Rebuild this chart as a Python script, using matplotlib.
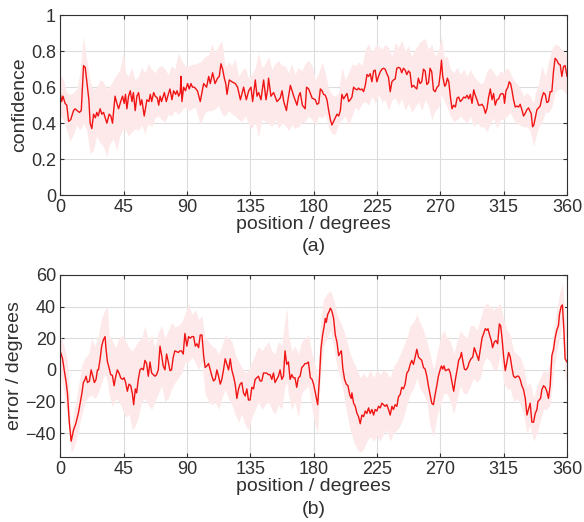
import numpy as np
import matplotlib
matplotlib.use("Agg")
import matplotlib.pyplot as plt

# ---- (a) confidence vs position ----
conf_pos = [0, 1, 2, 3.5, 4.7, 6, 7.5, 9.5, 10.6, 12,
            13.7, 15, 16.6, 17.8, 19.4, 20.4, 21.3, 22.5, 23.7, 25,
            26, 27, 28.4, 29.6, 30.8, 32, 33.2, 34.8, 36, 37.2,
            38, 39, 40.3, 41.5, 43, 44.3, 45.5, 46.4, 47.4, 48.6,
            49.8, 51, 52, 53.3, 54.5, 55.7, 57, 58, 59.7, 61.6,
            63, 64, 65, 66.4, 67.5, 69, 70, 71, 72, 74,
            75.4, 76.4, 78, 79.4, 80.6, 82, 83, 84.2, 85.3, 85.8,
            86.5, 87.7, 89, 90.5, 91.7, 92.9, 94, 95.3, 97.5, 99.5,
            101.9, 104, 105.5, 106.6, 108.3, 110, 111.8, 113, 114.2, 115.4,
            116.6, 117.6, 118.5, 120.1, 122, 124.4, 126, 128, 130.3, 132.2,
            133.9, 135.5, 136.7, 138.6, 139.8, 141, 142.6, 144.5, 146.2, 147.4,
            148, 149.7, 151.6, 154, 156.3, 157.6, 158.8, 160.7, 161.6, 163.5,
            165.9, 168.2, 169.4, 170.5, 172, 174, 175, 176.5, 178.9, 181.2,
            182.4, 183.6, 184.8, 186, 187.1, 188.3, 189.5, 190.7, 191.9, 193,
            194.2, 195.4, 196.6, 197.8, 199, 200.1, 201.3, 202.5, 203.7, 204.9,
            206, 207.2, 208.4, 209.6, 210.8, 211.9, 213.1, 214.3, 215.5, 216.7,
            217.9, 219, 220.2, 221.4, 222.6, 223.7, 224.9, 226.1, 227.3, 228.5,
            229.7, 230.8, 232, 233.2, 234.4, 235.6, 236.7, 237.9, 239.1, 240.3,
            241.5, 242.6, 243.8, 245, 246.2, 247.4, 248.5, 249.7, 250.9, 252,
            253.3, 254.4, 255.6, 256.8, 258, 259.2, 260.4, 261.6, 262.7, 263.9,
            265.1, 266.3, 267.7, 268.9, 270, 270.8, 271.7, 273.1, 274, 275,
            276, 277.1, 278.3, 279.5, 280.7, 281.9, 283, 284.2, 285.4, 286.6,
            287.8, 289, 290.1, 291.3, 292.5, 293.7, 294.8, 296, 297.2, 298.4,
            299.6, 300.8, 302, 303.1, 304.3, 305.5, 306.7, 307.8, 309, 310.2,
            311.4, 312.6, 313.8, 314.9, 315.6, 316.6, 318, 318.9, 319.9, 320.8,
            322, 323.2, 324.4, 325.6, 326.7, 327.9, 329.1, 330.3, 331.5, 332.6,
            333.8, 334.5, 335.5, 336.4, 337.4, 338.6, 339.7, 340.9, 342.1, 343.3,
            344.5, 345.6, 346.8, 348, 349.2, 350.4, 351.5, 352.7, 353.9, 355.1,
            356.3, 357.5, 358.6, 360]
conf_mean = [0.57, 0.52, 0.55, 0.51, 0.50, 0.41, 0.42, 0.47, 0.48, 0.47,
             0.46, 0.47, 0.72, 0.71, 0.60, 0.53, 0.40, 0.37, 0.45, 0.43,
             0.46, 0.44, 0.48, 0.45, 0.46, 0.43, 0.40, 0.45, 0.44, 0.40,
             0.47, 0.55, 0.51, 0.48, 0.52, 0.55, 0.51, 0.56, 0.48, 0.55,
             0.58, 0.52, 0.57, 0.47, 0.55, 0.57, 0.50, 0.53, 0.44, 0.53,
             0.52, 0.56, 0.52, 0.57, 0.55, 0.54, 0.50, 0.55, 0.52, 0.57,
             0.52, 0.55, 0.59, 0.53, 0.58, 0.56, 0.58, 0.55, 0.57, 0.66,
             0.52, 0.60, 0.58, 0.62, 0.59, 0.62, 0.60, 0.60, 0.58, 0.52,
             0.62, 0.60, 0.66, 0.62, 0.68, 0.62, 0.65, 0.66, 0.73, 0.70,
             0.65, 0.62, 0.56, 0.64, 0.63, 0.62, 0.60, 0.53, 0.60, 0.53,
             0.58, 0.60, 0.52, 0.64, 0.55, 0.57, 0.53, 0.64, 0.53, 0.59,
             0.65, 0.55, 0.57, 0.52, 0.54, 0.58, 0.52, 0.47, 0.52, 0.61,
             0.55, 0.50, 0.55, 0.57, 0.50, 0.48, 0.60, 0.59, 0.54, 0.53,
             0.505, 0.51, 0.59, 0.58, 0.56, 0.555, 0.53, 0.47, 0.42, 0.39,
             0.41, 0.43, 0.45, 0.44, 0.47, 0.56, 0.535, 0.55, 0.565, 0.52,
             0.53, 0.545, 0.60, 0.59, 0.585, 0.595, 0.585, 0.59, 0.575, 0.61,
             0.67, 0.66, 0.675, 0.63, 0.69, 0.695, 0.63, 0.66, 0.685, 0.70,
             0.705, 0.70, 0.675, 0.655, 0.575, 0.63, 0.64, 0.645, 0.705, 0.71,
             0.705, 0.68, 0.705, 0.695, 0.67, 0.69, 0.68, 0.60, 0.61, 0.60,
             0.59, 0.65, 0.62, 0.63, 0.70, 0.69, 0.615, 0.625, 0.705, 0.685,
             0.585, 0.575, 0.60, 0.61, 0.68, 0.75, 0.66, 0.605, 0.615, 0.65,
             0.63, 0.55, 0.48, 0.50, 0.49, 0.54, 0.545, 0.52, 0.53, 0.545,
             0.54, 0.555, 0.535, 0.56, 0.51, 0.585, 0.555, 0.53, 0.50, 0.50,
             0.505, 0.49, 0.455, 0.48, 0.545, 0.59, 0.53, 0.565, 0.50, 0.53,
             0.535, 0.56, 0.565, 0.56, 0.51, 0.58, 0.60, 0.63, 0.62, 0.585,
             0.53, 0.49, 0.495, 0.49, 0.505, 0.475, 0.44, 0.455, 0.475, 0.485,
             0.465, 0.455, 0.38, 0.39, 0.43, 0.475, 0.485, 0.495, 0.54, 0.57,
             0.56, 0.515, 0.52, 0.575, 0.575, 0.69, 0.76, 0.75, 0.73, 0.725,
             0.66, 0.715, 0.72, 0.66]

conf_band_pos = [0, 2.4, 4.7, 7, 9.5, 11.8, 14, 16.5, 18.9, 21.3,
                 23.6, 26, 28.4, 30.7, 33.1, 35.4, 37.8, 40.2, 42.5, 44.9,
                 46.5, 48.4, 50.8, 53.2, 55.5, 57.9, 60.2, 62.6, 65, 67.3,
                 69.7, 72, 74.4, 76.8, 79.1, 81.5, 83.9, 86.2, 88.6,
                 91.2, 96, 99.5, 100.7, 103, 105.4, 107.8, 110.1, 112.5, 114.8,
                 117.2, 119.6, 122, 124.3, 126.7, 129, 131.4, 133.7, 136.1, 138.5,
                 140.8, 143.2, 145.6, 148, 150.3, 152.6, 155, 157.4, 159.7, 162.1,
                 164.5, 166.8, 169.2, 171.5, 173.9, 176.3,
                 178.9, 181.2, 183.6, 186, 188.3, 190.7, 193, 195.4, 197.8, 200.1,
                 202.5, 204.9, 207.2, 209.6, 211.9, 214.3, 216.7, 219, 221.4, 223.7,
                 226.1, 228.5, 230.8, 233.2, 235.6, 238, 240.3, 242.6, 245, 247.4,
                 249.7, 252.1, 254.5, 256.8, 259.2, 261.5, 263.9, 266.3,
                 268.9, 270.8, 272.4, 274.8, 277.1, 279.5, 281.9, 284.2, 286.6, 289,
                 291.3, 293.7, 296, 298.4, 300.8, 303.1, 305.5, 307.8, 310.2, 312.6,
                 314.9, 317.3, 319.7, 322, 324.4, 326.8, 329.1, 331.5, 333.8, 336.2,
                 337.4, 339.7, 342.1, 344.5, 346.8, 349.2, 351.5, 353.9, 356.3, 358.6,
                 360]
conf_hi = [0.67, 0.64, 0.57, 0.56, 0.57, 0.59, 0.68, 0.88, 0.75, 0.63,
           0.59, 0.60, 0.64, 0.63, 0.59, 0.61, 0.64, 0.67, 0.70, 0.79,
           0.68, 0.66, 0.71, 0.64, 0.66, 0.71, 0.68, 0.73, 0.70, 0.68,
           0.71, 0.72, 0.70, 0.67, 0.72, 0.70, 0.79, 0.75, 0.72,
           0.72, 0.73, 0.74, 0.75, 0.77, 0.78, 0.84, 0.79, 0.83, 0.86,
           0.71, 0.74, 0.72, 0.76, 0.66, 0.69, 0.71, 0.65, 0.67, 0.71,
           0.79, 0.71, 0.73, 0.77, 0.70, 0.73, 0.75, 0.72, 0.72, 0.68,
           0.73, 0.67, 0.71, 0.69, 0.73, 0.75,
           0.72, 0.64, 0.68, 0.74, 0.68, 0.59, 0.56, 0.55, 0.57, 0.71,
           0.64, 0.68, 0.73, 0.72, 0.74, 0.72, 0.81, 0.84, 0.79, 0.83,
           0.83, 0.81, 0.84, 0.82, 0.77, 0.85, 0.82, 0.86, 0.80, 0.83,
           0.77, 0.81, 0.84, 0.86, 0.87, 0.81, 0.84, 0.77,
           0.81, 0.89, 0.77, 0.77, 0.70, 0.68, 0.71, 0.67, 0.70, 0.66,
           0.70, 0.66, 0.64, 0.62, 0.63, 0.69, 0.71, 0.68, 0.66, 0.69,
           0.68, 0.71, 0.68, 0.64, 0.62, 0.59, 0.55, 0.57, 0.55, 0.51,
           0.57, 0.62, 0.72, 0.66, 0.74, 0.81, 0.84, 0.83, 0.81, 0.79,
           0.77]
conf_lo = [0.44, 0.42, 0.36, 0.30, 0.34, 0.39, 0.36, 0.40, 0.36, 0.23,
           0.25, 0.33, 0.29, 0.27, 0.215, 0.29, 0.31, 0.25, 0.335, 0.37,
           0.36, 0.33, 0.35, 0.37, 0.36, 0.39, 0.34, 0.40, 0.38, 0.43,
           0.44, 0.42, 0.41, 0.45, 0.44, 0.47, 0.45, 0.47, 0.49,
           0.47, 0.49, 0.39, 0.42, 0.46, 0.47, 0.47, 0.48, 0.50, 0.45,
           0.44, 0.47, 0.45, 0.44, 0.42, 0.41, 0.44, 0.40, 0.37, 0.41,
           0.32, 0.42, 0.41, 0.40, 0.38, 0.42, 0.37, 0.40, 0.39, 0.36,
           0.39, 0.37, 0.38, 0.40, 0.41, 0.44,
           0.42, 0.39, 0.44, 0.43, 0.45, 0.38, 0.34, 0.34, 0.40, 0.42,
           0.44, 0.39, 0.44, 0.49, 0.47, 0.51, 0.52, 0.50, 0.55, 0.51,
           0.56, 0.52, 0.53, 0.47, 0.53, 0.54, 0.50, 0.54, 0.47, 0.51,
           0.46, 0.49, 0.52, 0.47, 0.53, 0.50, 0.42, 0.47,
           0.49, 0.56, 0.53, 0.49, 0.44, 0.41, 0.42, 0.44, 0.42, 0.40,
           0.44, 0.38, 0.41, 0.38, 0.38, 0.35, 0.40, 0.43, 0.37, 0.42,
           0.42, 0.44, 0.46, 0.42, 0.40, 0.39, 0.38, 0.38, 0.36, 0.27,
           0.31, 0.38, 0.40, 0.46, 0.46, 0.49, 0.57, 0.59, 0.59, 0.57,
           0.55]

# ---- (b) error vs position ----
err_pos = [0, 1.7, 2.8, 4.3, 5.2, 6.4, 7.8, 9.5, 11.1, 13,
           14.2, 15.4, 16.5, 17.7, 18.4, 19.4, 20.8, 22, 23.2, 24.3,
           25.5, 26.5, 27.2, 28.4, 29.5, 30.7, 31.9, 32.6, 33.6, 34.7,
           35.9, 37.1, 38.3, 39.5, 40.6, 41.8, 43, 44.2, 45.4, 46.5,
           47.7, 48.9, 50.1, 51.3, 52.2, 53.4, 54.3, 55.5, 56.7, 57.9,
           59.1, 60.2, 61.4, 62.6, 63.8, 65, 66.2, 67.3, 68.5, 69.7,
           70.9, 72.1, 73.2, 74.4, 75.6, 76.8, 78, 79.1, 80.3, 81.5,
           82.7, 83.9, 85.1, 86.2, 87.4, 88.6, 90, 91.2, 92.4, 93.6,
           94.8, 96, 97.1, 98.3, 99.5, 100.7, 101.9, 103, 104.2, 105.4,
           106.6, 107.8, 108.9, 110.1, 111.3, 112.5, 113.7, 114.8, 116, 117.2,
           118.4, 119.6, 120.8, 121.9, 123.1, 124.3, 125.5, 126.7, 127.8, 129,
           130.2, 131.4, 132.6, 133.7, 134.9, 136.1, 137.3, 138.5, 139.7, 140.8,
           142, 143.2, 144.4, 145.6, 146.7, 147.9, 149.1, 150.3, 151.5, 152.6,
           153.8, 155, 156.2, 157.4, 158.6, 159.7, 160.9, 162.1, 163.3, 164.5,
           165.6, 166.8, 168, 169.2, 170.4, 171.6, 172.7, 173.9, 175.1, 176.3,
           177.7, 178.9, 180, 181.2, 182.9, 184.1, 185.2, 186.4, 187.6, 188.3,
           189, 190, 191.1, 191.9, 193, 194.2, 195.4, 196.6, 197.8, 199,
           199.7, 200.8, 202, 203.2, 204.4, 205.6, 206.7, 207.2, 208.4, 209.6,
           210.8, 211.9, 213.1, 214.3, 215.5, 216.7, 217.8, 219, 220.2, 221.4,
           222.6, 223.7, 224.9, 226.1, 227.3, 228.5, 229.7, 230.8, 232, 233.2,
           234.4, 235.6, 236.7, 237.9, 239.1, 240.3, 241.5, 242.6, 243.8, 245,
           246.2, 247.4, 248.6, 249.7, 250.9, 252.1, 253.3, 254.5, 255.6, 256.8,
           258, 259.2, 260.4, 261.5, 262.7, 263.9, 265.1, 266.3, 267.5, 268.6,
           270, 270.8, 271.7, 272.6, 273.6, 274.8, 276, 277.1, 278.3, 279.5,
           280.7, 281.9, 283, 284.2, 285, 285.9, 287.1, 288.2, 289.4, 290.6,
           291.8, 293, 294.1, 295.3, 296.5, 297.2, 298.4, 299.6, 300.8, 301.9,
           303.1, 303.8, 305, 306.2, 307.1, 308.3, 309.5, 310.7, 311.9, 312.8,
           313.7, 314.9, 316.1, 317.3, 318.5, 319.7, 320.8, 322, 323.2, 324.4,
           325.6, 326.7, 327.9, 329.1, 330.3, 331.5, 332.6, 333.8, 335, 336.2,
           337.4, 338.6, 339.3, 340.2, 341.2, 342.1, 343.3, 344.5, 345.6, 346.8,
           348, 349.2, 350.4, 351.5, 352.7, 353.9, 354.6, 355.8, 356.7, 357.7,
           358.6, 360]
err_mean = [12, 7, 0.4, -8, -15, -32, -45, -38, -34, -27,
            -21, -15, -8, -6, -4, -8, -7, 0, -4, -8,
            -6, 0, 0, 7, 15, 19, 21, 13, 5, 1.5,
            -3, -3.5, -10, -4, 0, -2, -5, -6, -5, -8,
            -13.5, -9, -10, -15, -22, -12, -14.5, -6, 0, 1,
            0, 6, 4, -4, 5, -2, -3, -4, -3, 0,
            15, 9, 2.5, 0, 10, 5, -0.5, 0, 8, 12,
            11.5, 11, 12, 12, 10, 23, 15, 21, 20, 21,
            21, 15, 16.5, 14, 22, 22, 9, 1.5, 2.5, 4,
            0, -4, -7, -6, 0, -4, -9, -6, 0, 7,
            3.5, 0, 7, 0, -4, -9, -18, -12, -9, -8,
            -14.5, -16.5, -12, -19, -19, -11, -12, -6, -5, -4,
            -7, -7, -2, -2, -2, -3, -3, -6, -2, -8,
            -6, -4, 0, -6, -4, 12, 3.5, 5, -6, -3,
            -5, -5, -11, -5, -4, 1.5, 2.5, 4, 4, 5,
            -5, -6, -9, -14.5, -22, -6, 13, 22, 28, 32.5,
            30, 35, 37, 39, 37, 32.5, 22, 17.5, 9, 11,
            12, 0.5, -6, -9, -10, -15.5, -18, -14.5, -21, -23,
            -27.5, -29.5, -34, -28.5, -29.5, -26, -27.5, -24, -27.5, -25,
            -28.5, -25, -26, -23, -24, -21, -22, -23, -22, -25,
            -28.5, -23, -25, -22, -23, -17, -15.5, -11, -12, -9,
            -2, -0.5, 3.5, 6, 3.5, 8, 13, 8, 7, 6,
            1.5, 0.5, -4, -10, -15.5, -21, -22, -15.5, -10, -4,
            0.5, 2.5, 0.5, 2.5, -0.5, 0, 0.5, -2, -8, -13.5,
            -6, 0, 6, 8, 11, 6, 0.5, 0, 1.5, 5,
            7, 8, 14, 11, 8, 6, 13, 20, 23, 26,
            25, 26, 22, 18.5, 14, 17.5, 18.5, 16.5, 29, 28,
            21, 9, -0.5, 5, 11, 8, 1.5, -4, -5, -4,
            -4, -6, -10, -12.5, -18, -28.5, -25, -21, -33, -33,
            -27.5, -25, -20, -19, -18, -12.5, -10, -11, -13.5, -18,
            -10, 9, 13, 20, 25, 28, 35, 40, 41, 26,
            7, 5]

err_band_pos = [0, 2.8, 5.2, 7.8, 9.5, 11.1, 13, 15.4, 17.7, 20.1,
                22.4, 24.8, 27.2, 29.5, 31.9, 33.6, 34.7, 37.1, 39.5, 41.8,
                44.2, 46.5, 48.9, 51.3, 53.4, 55.5, 57.9, 60.2, 62.6, 65,
                67.3, 69.7, 72.1, 74.4, 76.8, 79.1, 81.5, 83.9, 86.2,
                88.9, 91.2, 93.6, 96, 98.3, 100.7, 103, 105.4, 107.8, 110.1,
                112.5, 114.8, 117.2, 119.6, 122, 124.3, 126.7, 129, 131.4, 133.7,
                136.1, 138.5, 140.8, 143.2, 145.6, 148, 150.3, 152.6, 155, 157.4,
                159.7, 160.9, 162.1, 164.5, 166.8, 169.2, 171.5, 173.9, 176.3,
                178.9, 181.2, 182.9, 184.8, 187.1, 189.5, 191.9, 194.2, 196.6, 199,
                201.3, 203.7, 206, 208.4, 210.8, 213.1, 215.5, 217.8, 220.2, 222.6,
                224.9, 227.3, 229.7, 232, 234.4, 236.7, 239.1, 241.5, 243.8, 246.2,
                248.6, 250.9, 253.3, 255.6, 258, 260.4, 262.7, 265.1, 267.5,
                270, 272.4, 274.8, 277.1, 279.5, 281.9, 284.2, 286.6, 289, 291.3,
                293.7, 296, 298.4, 300.8, 303.1, 305.5, 307.8, 310.2, 312.6, 314.9,
                317.3, 319.7, 322, 324.4, 326.7, 329.1, 331.5, 333.8, 336.2, 338.6,
                341, 343.3, 345.6, 348, 350.4, 352.7, 355.1, 356.7, 358.6, 360]
err_hi = [22, 15, 5, -38, -28, -20, -10, 3, 8, 10,
          20, 15, 22, 33, 38, 40, 22, 18, 14, 20,
          22, 18, 14, 12, 15, 18, 20, 28, 18, 22,
          14, 24, 28, 20, 25, 30, 27, 28, 30,
          36, 42, 35, 38, 32, 34, 20, 18, 15, 14,
          10, 15, 22, 20, 18, 10, 5, 2, -2, 0,
          5, 10, 15, 12, 15, 18, 12, 10, 18, 15,
          32, 40, 22, 12, 15, 10, 18, 20, 22,
          10, 2, -5, 28, 45, 48, 50, 45, 35, 30,
          25, 18, 10, 5, 0, -5, -2, -5, 0, -5,
          0, -3, 0, -2, -5, 2, 5, 10, 15, 20,
          28, 30, 35, 30, 25, 18, 10, 0, 10,
          20, 25, 20, 18, 10, 18, 25, 22, 20, 28,
          28, 25, 32, 40, 42, 40, 38, 40, 42, 32,
          25, 22, 12, 10, 8, 2, -10, -8, -18, -10,
          -5, 0, -2, 5, 25, 38, 50, 55, 35, 20]
err_lo = [0, -15, -30, -52, -50, -45, -38, -28, -20, -17,
          -16, -18, -14, -8, -2, -8, -15, -23, -18, -20,
          -25, -30, -28, -38, -35, -30, -20, -18, -22, -25,
          -20, -15, -10, -20, -18, -12, -8, -5, -2,
          5, 5, 8, 5, 0, 5, -15, -20, -22, -20,
          -25, -18, -12, -18, -22, -28, -33, -28, -35, -38,
          -30, -25, -20, -25, -22, -20, -25, -28, -22, -25,
          -10, -8, -15, -25, -20, -30, -15, -12, -10,
          -25, -35, -40, -5, 15, 20, 25, 15, 2, -5,
          -15, -28, -38, -45, -50, -52, -50, -45, -42, -45,
          -42, -45, -40, -38, -45, -40, -38, -35, -30, -22,
          -15, -12, -5, -12, -15, -20, -35, -42, -30,
          -22, -15, -15, -20, -28, -18, -10, -15, -15, -10,
          -5, -8, -5, 5, 8, 5, 0, 0, 10, -8,
          -12, -12, -20, -18, -22, -28, -40, -35, -45, -40,
          -32, -25, -25, -22, 0, 12, 22, 28, -5, -10]

x_ticks = [0, 45, 90, 135, 180, 225, 270, 315, 360]
conf_ticks = [0, 0.2, 0.4, 0.6, 0.8, 1]
conf_ticklabels = ["0", "0.2", "0.4", "0.6", "0.8", "1"]
err_ticks = [-40, -20, 0, 20, 40, 60]

plt.rcParams['font.family'] = ['Liberation Sans', 'DejaVu Sans']
dark = '#303030'
line_col = '#f01414'
band_col = '#fde9e9'

fig = plt.figure(figsize=(5.84, 5.22), dpi=100)
ax1 = fig.add_axes([0.103, 0.626, 0.868, 0.345])
ax2 = fig.add_axes([0.103, 0.1245, 0.868, 0.349])


def style(ax, ylabel):
    ax.set_xlim(0, 360)
    ax.set_xticks(x_ticks)
    ax.grid(True, color='#dcdcdc', linewidth=0.8)
    ax.set_axisbelow(True)
    ax.tick_params(direction='in', top=True, right=True, length=3,
                   colors=dark, labelsize=13, pad=3)
    for s in ax.spines.values():
        s.set_color(dark)
        s.set_linewidth(0.8)
    ax.set_xlabel('position / degrees', fontsize=14, color=dark, labelpad=0)
    ax.set_ylabel(ylabel, fontsize=14, color=dark, labelpad=2)


ax1.fill_between(conf_band_pos, conf_lo, conf_hi, color=band_col, linewidth=0)
ax1.plot(conf_pos, conf_mean, color=line_col, linewidth=1.0)
ax1.set_ylim(0, 1)
ax1.set_yticks(conf_ticks)
ax1.set_yticklabels(conf_ticklabels)
style(ax1, 'confidence')

ax2.fill_between(err_band_pos, err_lo, err_hi, color=band_col, linewidth=0)
ax2.plot(err_pos, err_mean, color=line_col, linewidth=1.0)
ax2.set_ylim(-55, 60)
ax2.set_yticks(err_ticks)
style(ax2, 'error / degrees')

fig.text(0.537, 0.527, '(a)', ha='center', va='center', fontsize=14, color=dark)
fig.text(0.537, 0.024, '(b)', ha='center', va='center', fontsize=14, color=dark)

fig.savefig('out.png', dpi=100)
